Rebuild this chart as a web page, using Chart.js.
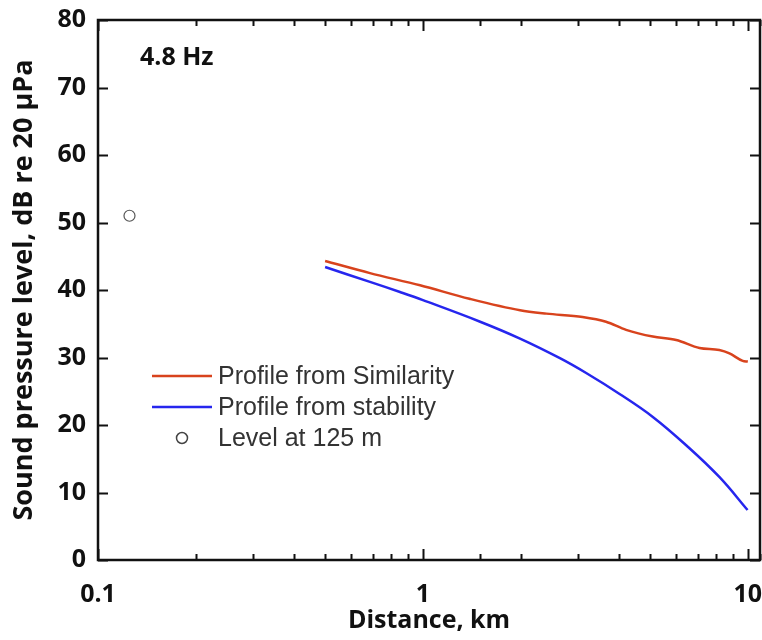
<!DOCTYPE html>
<html>
<head>
<meta charset="utf-8">
<script src="https://cdn.jsdelivr.net/npm/chart.js@4"></script>
<style>
  html, body { margin: 0; padding: 0; background: #fff; }
  #wrap { width: 762px; height: 640px; }
</style>
</head>
<body>
<div id="wrap"><canvas id="spl"></canvas></div>
<script>
// Distance in km, level in dB re 20 uPa
const simDist = [0.5, 0.687, 0.98, 1.39, 1.99, 2.4, 3.1, 3.66, 4.22, 5.1, 6.02, 7.1, 8.17, 8.78, 9.64, 10.0];
const simLevel = [44.3, 42.5, 40.7, 38.7, 37.0, 36.5, 36.0, 35.3, 34.1, 33.1, 32.6, 31.4, 31.1, 30.6, 29.5, 29.4];
const stabDist = [0.5, 0.687, 0.85, 1.0, 1.5, 1.99, 2.64, 3.18, 4.03, 5.1, 6.46, 8.17, 9.98];
const stabLevel = [43.4, 41.2, 39.7, 38.5, 35.3, 32.8, 29.9, 27.7, 24.6, 21.2, 17.0, 12.3, 7.4];
const obsDist = [0.125];
const obsLevel = [51.0];
const xLabels = [0.1, 1, 10];
const yTicks = [0, 10, 20, 30, 40, 50, 60, 70, 80];

const FONT = "'Open Sans', 'DejaVu Sans', sans-serif";
const RED = "#d8431d";
const BLUE = "#2626ee";

const toPts = (xs, ys) => xs.map((x, i) => ({ x: x, y: ys[i] }));
const isLabel = (v) => xLabels.some((l) => Math.abs(v - l) / l < 1e-6);
const noPad = (s) => {
  s.paddingLeft = 0; s.paddingRight = 0; s.paddingTop = 0; s.paddingBottom = 0;
};

// frame, inward ticks, legend and frequency note
const decor = {
  id: "decor",
  afterDraw(chart) {
    const ctx = chart.ctx;
    const a = chart.chartArea;
    const xs = chart.scales.x;
    const ys = chart.scales.y;
    ctx.save();
    ctx.strokeStyle = "#111";
    ctx.lineWidth = 2;
    ctx.beginPath();
    xs.ticks.forEach((t) => {
      if (t.value > xs.max) return;
      const px = Math.round(xs.getPixelForValue(t.value)) + 0.5;
      const len = isLabel(t.value) ? 11 : 6;
      ctx.moveTo(px, a.bottom); ctx.lineTo(px, a.bottom - len);
      ctx.moveTo(px, a.top); ctx.lineTo(px, a.top + len);
    });
    yTicks.forEach((v) => {
      const py = Math.round(ys.getPixelForValue(v)) + 0.5;
      ctx.moveTo(a.left, py); ctx.lineTo(a.left + 10, py);
      ctx.moveTo(a.right, py); ctx.lineTo(a.right - 10, py);
    });
    ctx.stroke();
    ctx.lineWidth = 2.5;
    ctx.strokeRect(a.left, a.top, a.right - a.left, a.bottom - a.top);

    // frequency note
    ctx.fillStyle = "#111";
    ctx.font = "bold 25px " + FONT;
    ctx.textBaseline = "middle";
    ctx.fillText("4.8 Hz", 140, 58);

    // legend
    const items = [
      { label: "Profile from Similarity", color: RED, type: "line" },
      { label: "Profile from stability", color: BLUE, type: "line" },
      { label: "Level at 125 m", color: "#444", type: "circle" },
    ];
    ctx.font = "25px 'Liberation Sans', Arial, sans-serif";
    items.forEach((it, i) => {
      const y = 376 + i * 31;
      if (it.type === "line") {
        ctx.strokeStyle = it.color;
        ctx.lineWidth = 2.5;
        ctx.beginPath();
        ctx.moveTo(152, y); ctx.lineTo(212, y);
        ctx.stroke();
      } else {
        ctx.strokeStyle = it.color;
        ctx.lineWidth = 1.5;
        ctx.beginPath();
        ctx.arc(182, y, 5.5, 0, Math.PI * 2);
        ctx.stroke();
      }
      ctx.fillStyle = "#333";
      ctx.fillText(it.label, 218, y + 1);
    });
    ctx.restore();
  },
};

new Chart(document.getElementById("spl"), {
  type: "scatter",
  data: {
    datasets: [
      {
        label: "Profile from Similarity",
        data: toPts(simDist, simLevel),
        showLine: true,
        borderColor: RED,
        borderWidth: 2.5,
        pointRadius: 0,
        cubicInterpolationMode: "monotone",
      },
      {
        label: "Profile from stability",
        data: toPts(stabDist, stabLevel),
        showLine: true,
        borderColor: BLUE,
        borderWidth: 2.5,
        pointRadius: 0,
        tension: 0.4,
      },
      {
        label: "Level at 125 m",
        data: toPts(obsDist, obsLevel),
        showLine: false,
        pointRadius: 5.5,
        pointBorderWidth: 1.2,
        pointBorderColor: "#555",
        pointBackgroundColor: "rgba(0,0,0,0)",
      },
    ],
  },
  options: {
    responsive: true,
    maintainAspectRatio: false,
    animation: false,
    layout: { autoPadding: false, padding: { top: 20, right: 2, left: 0, bottom: 0 } },
    plugins: { legend: { display: false }, tooltip: { enabled: false } },
    scales: {
      x: {
        type: "logarithmic",
        min: 0.1,
        max: 10.9,
        grid: { display: false, drawTicks: false },
        border: { display: false },
        ticks: {
          autoSkip: false,
          maxRotation: 0,
          padding: 20,
          color: "#111",
          font: { family: FONT, size: 25, weight: "bold" },
          callback: (v) => (isLabel(v) ? String(v) : ""),
        },
        title: {
          display: true,
          text: "Distance, km",
          color: "#111",
          font: { family: FONT, size: 25, weight: "bold" },
          padding: { top: 0 },
        },
        afterFit: (s) => { s.height = 80; noPad(s); },
      },
      y: {
        min: 0,
        max: 80,
        grid: { display: false, drawTicks: false },
        border: { display: false },
        ticks: {
          stepSize: 10,
          padding: 12,
          color: "#111",
          font: { family: FONT, size: 25, weight: "bold" },
        },
        title: {
          display: true,
          text: "Sound pressure level, dB re 20 μPa",
          color: "#111",
          font: { family: FONT, size: 27, weight: "bold" },
          padding: { top: 8, bottom: 0 },
        },
        afterFit: (s) => { s.width = 98; noPad(s); },
      },
    },
  },
  plugins: [decor],
});
</script>
</body>
</html>
